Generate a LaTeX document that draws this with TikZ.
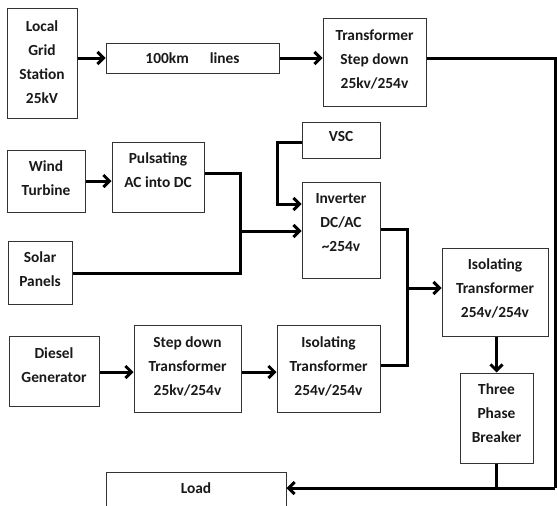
\documentclass[tikz,border=0pt]{standalone}
\usepackage{fontspec}
\setmainfont{Carlito}
\usetikzlibrary{arrows.meta}
\begin{document}
\begin{tikzpicture}[x=1pt,y=-1pt,
 box/.style={draw=black!80, line width=1pt, fill=white, inner sep=0pt},
 lbl/.style={font=\bfseries\fontsize{15.4}{24}\selectfont, align=center, text=black!90, inner sep=0pt},
 wire/.style={line width=3pt, line join=miter, black},
 arr/.style={wire, -{Straight Barb[length=6pt,width=12pt]}}
]
\clip (0,0) rectangle (557,506);
\fill[white] (0,0) rectangle (557,506);

% boxes
\node[box, minimum width=70pt, minimum height=110pt, label={[lbl,name=lgsT,yshift=1pt]center:{Local\\Grid\\Station\\25kV}}] (lgs) at (42,63) {};
\node[box, minimum width=173pt, minimum height=30pt, label={[lbl,name=linesT]center:{100km\hspace{21pt}lines}}] (lines) at (192.5,58) {};
\node[box, minimum width=103pt, minimum height=88pt, label={[lbl,name=tsdT,yshift=3pt]center:{Transformer\\Step down\\25kv/254v}}] (tsd) at (374.5,62) {};
\node[box, minimum width=78pt, minimum height=62pt, label={[lbl,name=windT,yshift=2.5pt]center:{Wind\\Turbine}}] (wind) at (46,181) {};
\node[box, minimum width=92pt, minimum height=70pt, label={[lbl,name=pulsT,yshift=7pt]center:{Pulsating\\AC into DC}}] (puls) at (158,177) {};
\node[box, minimum width=64pt, minimum height=63pt, label={[lbl,name=solarT,yshift=3pt]center:{Solar\\Panels}}] (solar) at (40,272.5) {};
\node[box, minimum width=78pt, minimum height=36pt, label={[lbl,name=vscT,yshift=3pt]center:{VSC}}] (vsc) at (341,140) {};
\node[box, minimum width=78pt, minimum height=96pt, label={[lbl,name=invT,yshift=7pt]center:{Inverter\\DC/AC\\\textasciitilde254v}}] (inv) at (341,230) {};
\node[box, minimum width=106pt, minimum height=88pt, label={[lbl,name=isoRT,yshift=4pt]center:{Isolating\\Transformer\\254v/254v}}] (isoR) at (495,292) {};
\node[box, minimum width=103pt, minimum height=87pt, label={[lbl,name=isoMT,yshift=2.5pt]center:{Isolating\\Transformer\\254v/254v}}] (isoM) at (328.5,368.5) {};
\node[box, minimum width=107pt, minimum height=87pt, label={[lbl,name=sdtT,yshift=2.5pt]center:{Step down\\Transformer\\25kv/254v}}] (sdt) at (187.5,368.5) {};
\node[box, minimum width=90pt, minimum height=70pt, label={[lbl,name=dieselT,yshift=6pt]center:{Diesel\\Generator}}] (diesel) at (54,371) {};
\node[box, minimum width=73pt, minimum height=90pt, label={[lbl,name=brkT,yshift=5pt]center:{Three\\Phase\\Breaker}}] (brk) at (496.5,418) {};
\node[box, minimum width=180pt, minimum height=36pt, label={[lbl,name=loadT,yshift=2pt]center:{Load}}] (load) at (196,490) {};

% junction coordinates
\coordinate (cTR) at (555,58);
\coordinate (cBR) at (555,488);
\coordinate (j1) at (240,173);
\coordinate (j2) at (240,273);
\coordinate (j) at (240,231);
\coordinate (v1) at (277,142);
\coordinate (v2) at (277,204);
\coordinate (i1) at (407,229);
\coordinate (i2) at (407,365);
\coordinate (i3) at (407,288);
\coordinate (d1) at (0,372);

% connectors
\draw[arr] (lgs.east |- lines.west) -- (lines.west);
\draw[arr] (lines.east) -- (tsd.west |- lines.east);
\draw[wire] (tsd.east |- lines.east) -- (cTR) -- (cBR);
\draw[arr] (cBR) -- (load.east |- cBR);
\draw[wire] (brk.south) -- (brk.south |- cBR);
\draw[arr] (wind.east) -- (puls.west |- wind.east);
\draw[wire] (puls.east |- j1) -- (j1) -- (j2) -- (solar.east |- j2);
\draw[arr] (j) -- (inv.west |- j);
\draw[arr] (vsc.west |- v1) -- (v1) -- (v2) -- (inv.west |- v2);
\draw[wire] (inv.east |- i1) -- (i1) -- (i2) -- (isoM.east |- i2);
\draw[arr] (i3) -- (isoR.west |- i3);
\draw[arr] (diesel.east |- d1) -- (sdt.west |- d1);
\draw[arr] (sdt.east |- d1) -- (isoM.west |- d1);
\draw[arr] (brk.north |- isoR.south) -- (brk.north);
\end{tikzpicture}
\end{document}
